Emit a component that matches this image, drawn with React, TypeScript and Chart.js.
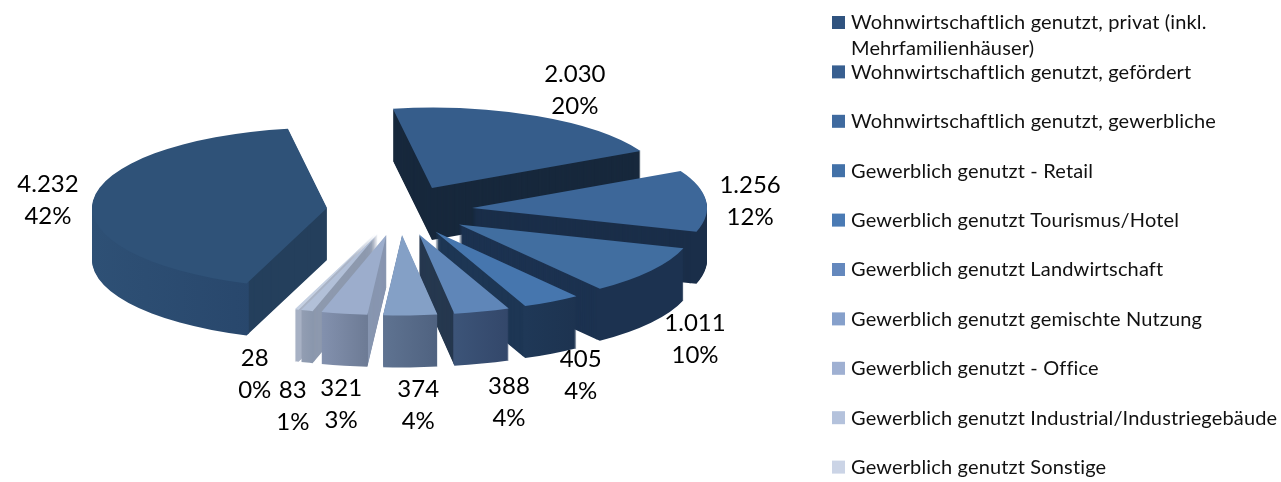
import React, { useEffect, useRef } from "react";
import { Chart, registerables } from "chart.js";

Chart.register(...registerables);

const categories: (string | string[])[] = [
  ["Wohnwirtschaftlich genutzt, privat (inkl.", "Mehrfamilienhäuser)"],
  "Wohnwirtschaftlich genutzt, gefördert",
  "Wohnwirtschaftlich genutzt, gewerbliche",
  "Gewerblich genutzt - Retail",
  "Gewerblich genutzt Tourismus/Hotel",
  "Gewerblich genutzt Landwirtschaft",
  "Gewerblich genutzt gemischte Nutzung",
  "Gewerblich genutzt - Office",
  "Gewerblich genutzt Industrial/Industriegebäude",
  "Gewerblich genutzt Sonstige",
];
const values = [4232, 2030, 1256, 1011, 405, 388, 374, 321, 83, 28];

const topColors = ["#2f5278", "#365d8b", "#3d6799", "#416ea0", "#4676ae", "#5f86b8", "#84a0c6", "#9cadcc", "#b2c0d8", "#c5d0e2"];
const legendColors = ["#30537f", "#385f90", "#3f6a9f", "#4271a8", "#4a7ab4", "#6488bd", "#86a0cb", "#9fb0d2", "#b4c2dc", "#cbd4e6"];
const cutColors = ["#243f5c", "#17283c", "#1a2e49", "#1c3250", "#1d3654", "#26384f", "#5a6a85", "#8896b0", "#8d99ae", "#a9b3c5"];
const wallLeft = ["#2e5075", "#17283c", "#1a2e49", "#1c3250", "#1f3857", "#3c5478", "#5f7391", "#8391ae", "#939eb3", "#a7b1c4"];
const wallRight = ["#27456a", "#17283c", "#1a2e49", "#1c3250", "#1d3350", "#33476a", "#4f6280", "#6d7b95", "#8a97ad", "#a7b1c4"];

// label offset from the projected outer mid-point of each slice
const labelOffsets = [[-45, 0], [38, -26], [44, 0], [44, 68], [29, 74], [27, 91], [8, 90], [-3, 91], [-14, 96], [-42, 65]];

const ROTATION = 200;
const RADIUS = 235;
const EXPLODE = 72.8;
const SQUASH = 0.342;
const DEPTH = 52;
const LABEL_FONT = "24px Lato, sans-serif";
const LEGEND_FONT = "20px Lato, sans-serif";
const LEGEND_SPACING = "0.15px";
const LEGEND_X = 832;
const LEGEND_TOP = 23;
const LEGEND_STEP = 49.4;

const total = values.reduce((a, b) => a + b, 0);

const pie3d = {
  id: "pie3d",
  beforeDatasetsDraw(chart: any) {
    const ctx: CanvasRenderingContext2D = chart.ctx;
    const arcs: any[] = chart.getDatasetMeta(0).data;
    const mid = (a: any) => (a.startAngle + a.endAngle) / 2;
    const order = arcs.map((_, i) => i).sort((p, q) => Math.sin(mid(arcs[p])) - Math.sin(mid(arcs[q])));
    const paint = (a: any, d: number, fill: any, r: number, inner = 0) => {
      const saved = a.options;
      const savedR = a.outerRadius;
      const savedI = a.innerRadius;
      a.options = { ...saved, backgroundColor: fill, borderWidth: 0, offset: 0 };
      a.outerRadius = r;
      a.innerRadius = inner;
      ctx.save();
      ctx.translate(a.x, a.y + d);
      ctx.scale(1, SQUASH);
      ctx.translate(Math.cos(mid(a)) * saved.offset, Math.sin(mid(a)) * saved.offset);
      ctx.translate(-a.x, -a.y);
      a.draw(ctx);
      ctx.restore();
      a.options = saved;
      a.outerRadius = savedR;
      a.innerRadius = savedI;
    };
    for (const i of order) {
      const a = arcs[i];
      let lo = Infinity;
      let hi = -Infinity;
      for (let t = 0; t <= 24; t++) {
        const x = a.x + a.outerRadius * Math.cos(a.startAngle + ((a.endAngle - a.startAngle) * t) / 24);
        lo = Math.min(lo, x);
        hi = Math.max(hi, x);
      }
      const g = ctx.createLinearGradient(lo, 0, hi, 0);
      g.addColorStop(0, wallLeft[i]);
      g.addColorStop(1, wallRight[i]);
      for (let d = DEPTH; d >= 1; d--) {
        paint(a, d, cutColors[i], a.outerRadius - 6);
        paint(a, d, g, a.outerRadius, a.outerRadius - 8);
      }
      paint(a, 0, topColors[i], a.outerRadius);
    }
    return false;
  },
  afterDraw(chart: any) {
    const ctx: any = chart.ctx;
    const arcs: any[] = chart.getDatasetMeta(0).data;
    ctx.save();
    ctx.fillStyle = "#000";
    ctx.font = LABEL_FONT;
    ctx.textAlign = "center";
    ctx.textBaseline = "middle";
    arcs.forEach((a, i) => {
      const m = (a.startAngle + a.endAngle) / 2;
      const r = a.outerRadius + EXPLODE;
      const x = a.x + r * Math.cos(m) + labelOffsets[i][0];
      const y = a.y + r * Math.sin(m) * SQUASH + labelOffsets[i][1];
      ctx.fillText(values[i].toLocaleString("de-DE"), x, y - 16);
      ctx.fillText(`${Math.round((values[i] / total) * 100)}%`, x, y + 16);
    });
    ctx.font = LEGEND_FONT;
    ctx.letterSpacing = LEGEND_SPACING;
    ctx.textAlign = "left";
    (chart.data.labels as (string | string[])[]).forEach((lab, i) => {
      const y = LEGEND_TOP + i * LEGEND_STEP;
      ctx.fillStyle = legendColors[i];
      ctx.fillRect(LEGEND_X, y - 7, 13, 13);
      ctx.fillStyle = "#111";
      const lines = Array.isArray(lab) ? lab : [lab];
      lines.forEach((t, n) => ctx.fillText(t, LEGEND_X + 19, y + n * 26));
    });
    ctx.restore();
  },
};

export default function App() {
  const ref = useRef<HTMLCanvasElement>(null);
  useEffect(() => {
    document.body.style.margin = "0";
    const chart = new Chart(ref.current!, {
      type: "pie",
      data: {
        labels: categories as any,
        datasets: [{ data: values, backgroundColor: topColors, offset: EXPLODE, borderWidth: 0 }],
      },
      options: {
        animation: false,
        responsive: false,
        rotation: ROTATION,
        radius: RADIUS,
        layout: { padding: { left: 0, top: 0, right: 482, bottom: 61.6 } },
        plugins: { legend: { display: false }, tooltip: { enabled: false } },
      } as any,
      plugins: [pie3d],
    });
    return () => chart.destroy();
  }, []);
  return <canvas ref={ref} width={1281} height={482} style={{ display: "block" }} />;
}
